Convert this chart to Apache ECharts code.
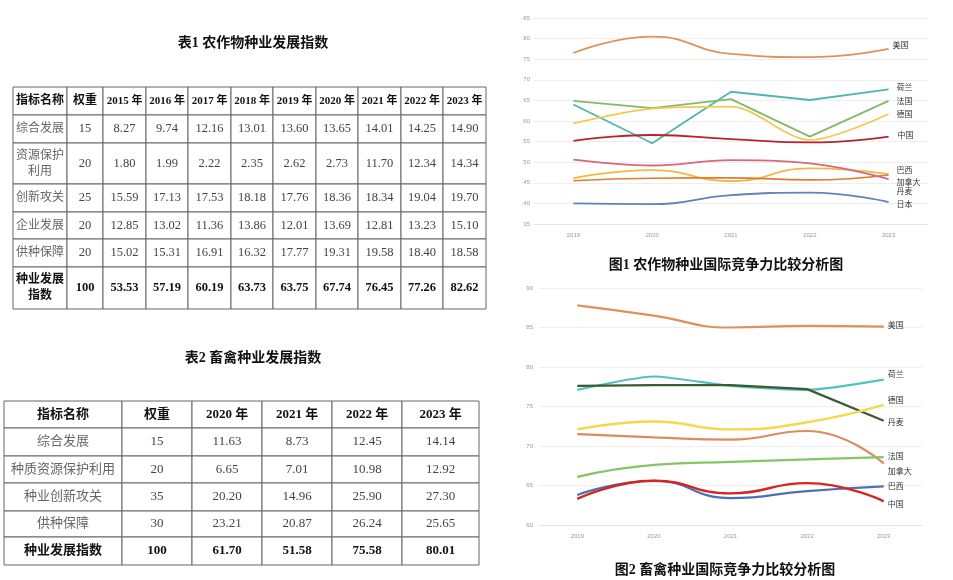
<!DOCTYPE html>
<html><head><meta charset="utf-8">
<script src="https://cdn.jsdelivr.net/npm/echarts@6/dist/echarts.min.js"></script>
<style>html,body{margin:0;padding:0;background:#fff}#c{width:953px;height:580px}</style>
</head><body><div id="c"></div>
<script>
// ---------- Table 1 data ----------
const years1 = ['2015 年','2016 年','2017 年','2018 年','2019 年','2020 年','2021 年','2022 年','2023 年'];
const names1 = ['综合发展','资源保护\n利用','创新攻关','企业发展','供种保障','种业发展\n指数'];
const weights1 = [15,20,25,20,20,100];
const vals1 = [
  [8.27,9.74,12.16,13.01,13.60,13.65,14.01,14.25,14.90],
  [1.80,1.99,2.22,2.35,2.62,2.73,11.70,12.34,14.34],
  [15.59,17.13,17.53,18.18,17.76,18.36,18.34,19.04,19.70],
  [12.85,13.02,11.36,13.86,12.01,13.69,12.81,13.23,15.10],
  [15.02,15.31,16.91,16.32,17.77,19.31,19.58,18.40,18.58],
  [53.53,57.19,60.19,63.73,63.75,67.74,76.45,77.26,82.62]
];
// ---------- Table 2 data ----------
const years2 = ['2020 年','2021 年','2022 年','2023 年'];
const names2 = ['综合发展','种质资源保护利用','种业创新攻关','供种保障','种业发展指数'];
const weights2 = [15,20,35,30,100];
const vals2 = [
  [11.63,8.73,12.45,14.14],
  [6.65,7.01,10.98,12.92],
  [20.20,14.96,25.90,27.30],
  [23.21,20.87,26.24,25.65],
  [61.70,51.58,75.58,80.01]
];
const headName = '指标名称', headWeight = '权重';
// ---------- Figure 1 data ----------
const xYears = ['2019','2020','2021','2022','2023'];
const f1Names = ['美国','荷兰','法国','德国','中国','巴西','加拿大','丹麦','日本'];
const f1US = [76.5,80.5,76.3,75.5,77.5];
const f1NL = [64.0,54.6,67.1,65.1,67.7];
const f1FR = [64.9,63.1,65.3,56.2,64.9];
const f1DE = [59.4,63.0,63.5,55.4,61.7];
const f1CN = [55.2,56.6,55.6,54.8,56.2];
const f1BR = [46.1,48.1,45.4,48.5,47.1];
const f1CA = [45.5,46.1,46.2,45.7,46.9];
const f1DK = [50.6,49.2,50.5,49.7,45.9];
const f1JP = [40.0,39.8,42.0,42.6,40.3];
// ---------- Figure 2 data ----------
const f2Names = ['美国','荷兰','丹麦','德国','加拿大','法国','巴西','中国'];
const f2US = [87.8,86.5,85.0,85.2,85.1];
const f2NL = [77.1,78.8,77.6,77.1,78.4];
const f2DK = [77.6,77.7,77.7,77.2,73.2];
const f2DE = [72.1,73.1,72.1,73.0,75.2];
const f2CA = [71.5,71.1,70.8,71.9,67.8];
const f2FR = [66.1,67.6,68.0,68.3,68.6];
const f2BR = [63.8,65.6,63.4,64.3,64.9];
const f2CN = [63.3,65.6,64.0,65.3,63.0];

// ---------- layout (styles / sizes) ----------
const colW1 = [54,36,43,42,43,42,43,42,43,42,43];
const rowH1 = [28,28,41,28,27,28,42];
const colW2 = [118,70,70,70,70,77];
const rowH2 = [27,28,27,28,26,28];
const serif = "'Liberation Serif','Noto Sans CJK SC',serif";

function cum(a){const r=[0];a.forEach(v=>r.push(r[r.length-1]+v));return r;}
function sum(a){return a.reduce((s,v)=>s+v,0);}

function buildCells(years, names, weights, vals){
  const cells=[];
  cells.push({value:[0,0],text:headName,kind:'head'});
  cells.push({value:[1,0],text:headWeight,kind:'head'});
  years.forEach((y,i)=>cells.push({value:[i+2,0],text:y,kind:'headY'}));
  names.forEach((n,r)=>{
    const last = r===names.length-1;
    cells.push({value:[0,r+1],text:n,kind:last?'total':'name'});
    cells.push({value:[1,r+1],text:String(weights[r]),kind:last?'totalN':'num'});
    vals[r].forEach((v,c)=>cells.push({value:[c+2,r+1],text:v.toFixed(2),kind:last?'totalN':'num'}));
  });
  return cells;
}

function makeRender(cells, colW, rowH, fs){
  const cx=cum(colW), cy=cum(rowH);
  return function(params, api){
    const c=api.value(0), r=api.value(1);
    const p0=api.coord([cx[c],cy[r]]), p1=api.coord([cx[c+1],cy[r+1]]);
    const cell=cells[params.dataIndex];
    const k=cell.kind;
    const bold = (k==='head'||k==='headY'||k==='total'||k==='totalN');
    const color = bold ? '#111' : (k==='name' ? '#666' : '#444');
    let size = fs[k];
    return {
      type:'group',
      children:[
        {type:'rect',shape:{x:p0[0],y:p0[1],width:p1[0]-p0[0],height:p1[1]-p0[1]},
         style:{fill:'#fff',stroke:'#666',lineWidth:1}},
        {type:'text',style:{text:cell.text,x:(p0[0]+p1[0])/2,y:(p0[1]+p1[1])/2,
          align:'center',verticalAlign:'middle',fontSize:size,fontFamily:serif,
          fontWeight:bold?'bold':'normal',fill:color,lineHeight:size*1.35}}
      ]
    };
  };
}

const cells1 = buildCells(years1, names1, weights1, vals1);
const cells2 = buildCells(years2, names2, weights2, vals2);

function lineSeries(name, data, color, gi, smooth, dy, width, dx){
  return {
    type:'line', name:name, data:data, xAxisIndex:gi, yAxisIndex:gi,
    smooth:smooth, symbol:'none', lineStyle:{color:color,width:width}, itemStyle:{color:color},
    endLabel:{show:true,formatter:name,fontSize:8,color:'#333',offset:[dx||0,dy],distance:4,
      fontFamily:"'Noto Sans CJK SC'"},
    emphasis:{disabled:true}, silent:true
  };
}

const chart = echarts.init(document.getElementById('c'), null, {renderer:'canvas'});
const axisLbl = {fontSize:6,color:'#999'};
chart.setOption({
  backgroundColor:'#fff',
  animation:false,
  title:[
    {text:'表1 农作物种业发展指数',left:248,top:38,textAlign:'center',textVerticalAlign:'middle',
     textStyle:{fontSize:14,fontWeight:'bold',fontFamily:serif,color:'#111'}},
    {text:'表2 畜禽种业发展指数',left:248,top:353,textAlign:'center',textVerticalAlign:'middle',
     textStyle:{fontSize:14,fontWeight:'bold',fontFamily:serif,color:'#111'}},
    {text:'图1 农作物种业国际竞争力比较分析图',left:721,top:260,textAlign:'center',textVerticalAlign:'middle',
     textStyle:{fontSize:14,fontWeight:'bold',fontFamily:serif,color:'#111'}},
    {text:'图2 畜禽种业国际竞争力比较分析图',left:720,top:565,textAlign:'center',textVerticalAlign:'middle',
     textStyle:{fontSize:14,fontWeight:'bold',fontFamily:serif,color:'#111'}}
  ],
  grid:[
    {left:13,top:87,width:sum(colW1),height:sum(rowH1)},
    {left:4,top:401,width:sum(colW2),height:sum(rowH2)},
    {left:534,top:18,width:394,height:206},
    {left:539,top:288,width:383,height:237}
  ],
  xAxis:[
    {gridIndex:0,type:'value',min:0,max:sum(colW1),show:false},
    {gridIndex:1,type:'value',min:0,max:sum(colW2),show:false},
    {gridIndex:2,type:'category',data:xYears,boundaryGap:true,axisTick:{show:false},
     axisLine:{lineStyle:{color:'#e3e3e3'}},axisLabel:axisLbl},
    {gridIndex:3,type:'category',data:xYears,boundaryGap:true,axisTick:{show:false},
     axisLine:{lineStyle:{color:'#e3e3e3'}},axisLabel:axisLbl}
  ],
  yAxis:[
    {gridIndex:0,type:'value',min:0,max:sum(rowH1),inverse:true,show:false},
    {gridIndex:1,type:'value',min:0,max:sum(rowH2),inverse:true,show:false},
    {gridIndex:2,type:'value',min:35,max:85,interval:5,axisLine:{show:false},axisTick:{show:false},
     axisLabel:Object.assign({margin:4},axisLbl),splitLine:{lineStyle:{color:'#eeeeee'}}},
    {gridIndex:3,type:'value',min:60,max:90,interval:5,axisLine:{show:false},axisTick:{show:false},
     axisLabel:Object.assign({margin:6},axisLbl),splitLine:{lineStyle:{color:'#eeeeee'}}}
  ],
  series:[
    {type:'custom',xAxisIndex:0,yAxisIndex:0,clip:false,silent:true,data:cells1,
     renderItem:makeRender(cells1,colW1,rowH1,{head:12,headY:11,name:12,num:12.5,total:12,totalN:12.5})},
    {type:'custom',xAxisIndex:1,yAxisIndex:1,clip:false,silent:true,data:cells2,
     renderItem:makeRender(cells2,colW2,rowH2,{head:13,headY:13,name:13,num:13,total:13,totalN:13})},
    lineSeries(f1Names[0],f1US,'#e0925a',2,0.5,-4,1.8),
    lineSeries(f1Names[1],f1NL,'#4fb6b0',2,false,-2,1.8,4),
    lineSeries(f1Names[2],f1FR,'#84b86c',2,false,0,1.8,4),
    lineSeries(f1Names[3],f1DE,'#f3c94e',2,0.3,0,1.8,4),
    lineSeries(f1Names[4],f1CN,'#b8222c',2,0.5,-2,1.8,5),
    lineSeries(f1Names[5],f1BR,'#f2b840',2,0.5,-4,1.8,4),
    lineSeries(f1Names[6],f1CA,'#e27a30',2,0.5,7,1.6,4),
    lineSeries(f1Names[7],f1DK,'#d8667e',2,0.4,12,1.8,4),
    lineSeries(f1Names[8],f1JP,'#5f84b8',2,0.5,2,1.8,4),
    lineSeries(f2Names[0],f2US,'#e0905a',3,0.5,-2,2.2),
    lineSeries(f2Names[1],f2NL,'#52c2c0',3,0.2,-6,2.2),
    lineSeries(f2Names[2],f2DK,'#3d5a32',3,false,1,2.2),
    lineSeries(f2Names[3],f2DE,'#f5d84c',3,0.5,-5,2.4),
    lineSeries(f2Names[4],f2CA,'#dc8c5c',3,0.5,8,2.2),
    lineSeries(f2Names[5],f2FR,'#86c465',3,0.5,-1,2.2),
    lineSeries(f2Names[6],f2BR,'#4b70b5',3,0.5,0,2.2),
    lineSeries(f2Names[7],f2CN,'#d62424',3,0.5,3,2.4)
  ]
});
</script></body></html>
